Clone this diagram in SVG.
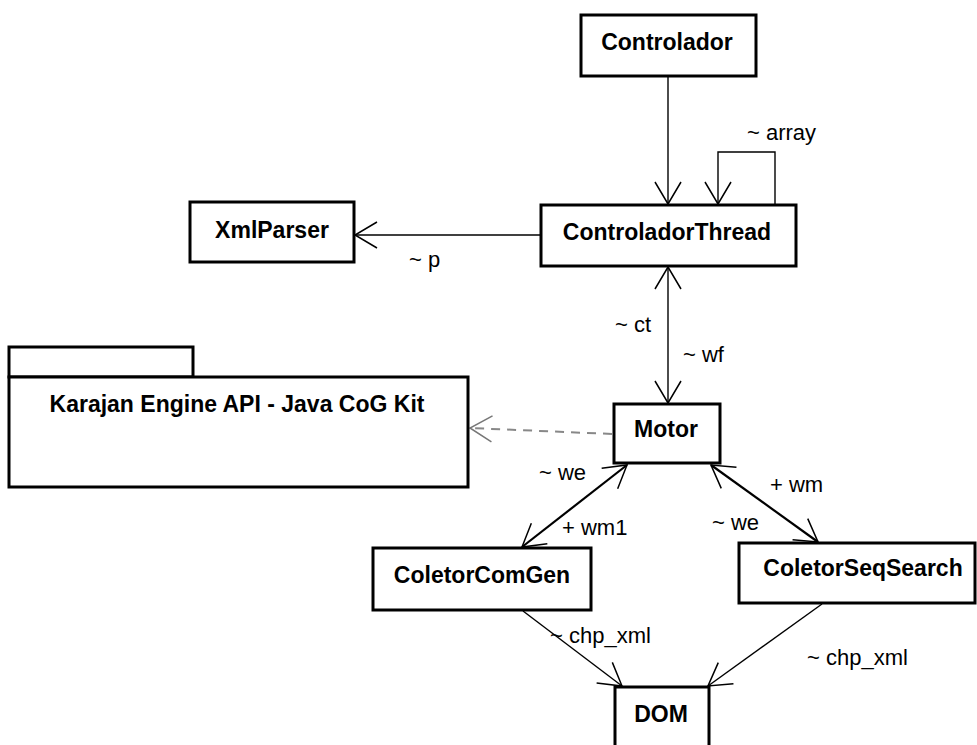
<svg xmlns="http://www.w3.org/2000/svg" width="977" height="745" viewBox="0 0 977 745">
<style>
.box{fill:#fff;stroke:#000;stroke-width:3}
.name{font-family:"Liberation Sans",Arial,sans-serif;font-weight:bold;font-size:23px;text-anchor:middle;fill:#000}
.lbl{font-family:"Liberation Sans",Arial,sans-serif;font-size:22px;fill:#000}
.conn{fill:none;stroke:#000;stroke-width:1.4}
.thick{stroke-width:2.2}
.dash{fill:none;stroke:#888;stroke-width:2;stroke-dasharray:9 7}
</style>
<defs>
<marker id="arr" markerUnits="userSpaceOnUse" markerWidth="30" markerHeight="30" viewBox="-24 -15 26 30" refX="0" refY="0" orient="auto-start-reverse">
<path d="M-22,-13 L0,0 L-22,13" fill="none" stroke="#000" stroke-width="1.5"/>
</marker>
<marker id="arrg" markerUnits="userSpaceOnUse" markerWidth="30" markerHeight="30" viewBox="-24 -15 26 30" refX="0" refY="0" orient="auto">
<path d="M-22,-13 L0,0 L-22,13" fill="none" stroke="#777" stroke-width="1.5"/>
</marker>
</defs>
<rect width="977" height="745" fill="#fff"/>
<g id="connectors">
<line class="conn" x1="668" y1="77" x2="668" y2="204" marker-end="url(#arr)"/>
<polyline class="conn" points="775,204 775,152 718,152 718,204" marker-end="url(#arr)"/>
<line class="conn" x1="540" y1="235" x2="355" y2="235" marker-end="url(#arr)"/>
<line class="conn" x1="668" y1="267" x2="668" y2="403" marker-start="url(#arr)" marker-end="url(#arr)"/>
<line class="dash" x1="612" y1="434" x2="470" y2="428" marker-end="url(#arrg)"/>
<line class="conn thick" x1="627" y1="465" x2="522" y2="547" marker-start="url(#arr)" marker-end="url(#arr)"/>
<line class="conn thick" x1="711" y1="465" x2="818" y2="542" marker-start="url(#arr)" marker-end="url(#arr)"/>
<line class="conn" x1="523" y1="611" x2="622" y2="686" marker-end="url(#arr)"/>
<line class="conn" x1="822" y1="604" x2="708" y2="686" marker-end="url(#arr)"/>
<text class="lbl" x="747" y="140">~ array</text>
<text class="lbl" x="409" y="267">~ p</text>
<text class="lbl" x="615" y="332">~ ct</text>
<text class="lbl" x="683" y="362">~ wf</text>
<text class="lbl" x="539" y="480">~ we</text>
<text class="lbl" x="562" y="535">+ wm1</text>
<text class="lbl" x="770" y="492">+ wm</text>
<text class="lbl" x="712" y="530">~ we</text>
<text class="lbl" x="550" y="643">~ chp_xml</text>
<text class="lbl" x="807" y="665">~ chp_xml</text>
</g>
<g id="controlador">
<rect class="box" x="581" y="15" width="175" height="61"/>
<text class="name" x="667" y="50">Controlador</text>
</g>
<g id="controladorThread">
<rect class="box" x="541" y="205" width="255" height="61"/>
<text class="name" x="667" y="240">ControladorThread</text>
</g>
<g id="xmlParser">
<rect class="box" x="190" y="202" width="164" height="60"/>
<text class="name" x="272" y="238">XmlParser</text>
</g>
<g id="karajan">
<rect class="box" x="9" y="347" width="184" height="30"/>
<rect class="box" x="9" y="377" width="459" height="110"/>
<text class="name" x="237" y="412">Karajan Engine API - Java CoG Kit</text>
</g>
<g id="motor">
<rect class="box" x="614" y="404" width="106" height="59"/>
<text class="name" x="666" y="437">Motor</text>
</g>
<g id="coletorComGen">
<rect class="box" x="373" y="548" width="218" height="62"/>
<text class="name" x="482" y="583">ColetorComGen</text>
</g>
<g id="coletorSeqSearch">
<rect class="box" x="739" y="543" width="236" height="60"/>
<text class="name" x="863" y="576">ColetorSeqSearch</text>
</g>
<g id="dom">
<rect class="box" x="615" y="687" width="94" height="70"/>
<text class="name" x="661" y="722">DOM</text>
</g>
</svg>
